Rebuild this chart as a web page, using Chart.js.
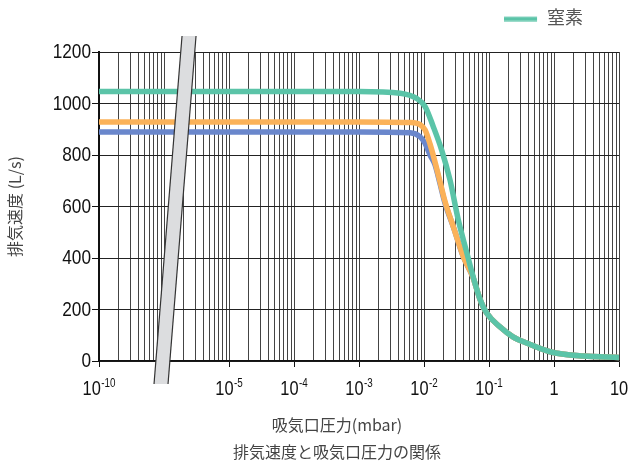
<!DOCTYPE html>
<html><head><meta charset="utf-8">
<script src="https://cdn.jsdelivr.net/npm/chart.js@4.4.1/dist/chart.umd.min.js"></script>
<style>html,body{margin:0;padding:0;background:#fff;}#wrap{width:633px;height:463px;}</style>
</head><body><div id="wrap"><canvas id="c" width="633" height="463"></canvas></div>
<script>
// ---- data ----
const seriesNames = ['窒素', '', ''];
const xTickPressures = [1e-10, 1e-5, 1e-4, 1e-3, 1e-2, 1e-1, 1, 10];
const xTickBases = ['10', '10', '10', '10', '10', '10', '1', '10'];
const xTickExps = ['-10', '-5', '-4', '-3', '-2', '-1', '', ''];
const yTickValues = [0, 200, 400, 600, 800, 1000, 1200];
const xAxisTitle = '吸気口圧力(mbar)';
const yAxisTitle = '排気速度 (L/s)';
const chartTitle = '排気速度と吸気口圧力の関係';

const n2Pressure = [1e-10, 1e-3, 4.3e-3, 7.7e-3, 1.04e-2, 1.39e-2, 1.87e-2, 2.51e-2, 3.37e-2, 4.54e-2, 5.61e-2, 7.27e-2, 9.2e-2, 0.147, 0.234, 0.38, 0.867, 2.79, 10];
const n2Speed    = [1047, 1047, 1040, 1020, 988, 910, 819, 703, 548, 422, 334, 240, 186, 133, 94, 70, 36, 19, 14];

const orangePressure = [1e-10, 1e-3, 6.1e-3, 8.7e-3, 1.04e-2, 1.24e-2, 1.48e-2, 1.76e-2, 2.1e-2, 2.83e-2, 4.03e-2, 5.61e-2, 7.27e-2, 9.2e-2, 0.147, 0.234, 0.38, 0.867, 2.79, 10];
const orangeSpeed    = [928, 928, 926, 918, 897, 842, 772, 697, 620, 521, 405, 328, 240, 186, 133, 94, 70, 36, 19, 14];

const bluePressure = [1e-10, 1e-3, 6.1e-3, 8.7e-3, 1.04e-2, 1.24e-2, 1.48e-2, 1.76e-2, 2.1e-2, 2.83e-2, 4.03e-2, 5.61e-2, 7.27e-2, 9.2e-2, 0.147, 0.234, 0.38, 0.867, 2.79, 10];
const blueSpeed    = [889, 889, 886, 871, 845, 800, 762, 690, 614, 521, 405, 328, 240, 186, 133, 94, 70, 36, 19, 14];

// ---- styles ----
const GREEN = '#5bc4a8', ORANGE = '#fbb259', BLUE = '#6a87cc';
const numFont = "'Liberation Sans', Arial, sans-serif";
const NARROW = 0.82;
const jpFont = "'Noto Sans CJK JP', 'Noto Sans', sans-serif";

// broken log axis: 1e-10..1e-9 occupies [0,1], then 1e-6..10 occupies [1,8]
function toAxis(p) { const lg = Math.log10(p); return lg < -7.5 ? lg + 10 : lg + 7; }
const majorU = xTickPressures.map(toAxis);
const isMajor = u => majorU.some(m => Math.abs(m - u) < 1e-6);
function pts(ps, vs) { return ps.map((p, i) => ({x: toAxis(p), y: vs[i]})); }

const legendImg = document.createElement('canvas');
legendImg.width = 34; legendImg.height = 8;
{ const g = legendImg.getContext('2d'); g.fillStyle = GREEN; g.fillRect(0, 3.3, 33, 4.3); }

const decorPlugin = {
  id: 'decor',
  afterLayout(chart) {
    if (chart.legend) chart.legend.right = chart.chartArea.right - 27.5;
    if (chart.titleBlock) { chart.titleBlock.left = 55; chart.titleBlock.right = chart.chartArea.right; chart.titleBlock.width = chart.titleBlock.right - 55; }
  },
  afterDatasetsDraw(chart) {
    const ctx = chart.ctx, xs = chart.scales.x, a = chart.chartArea;
    const yTop = a.top - 16, yBot = a.bottom + 23;
    const cTop = xs.getPixelForValue(1.385), cBot = xs.getPixelForValue(0.954);
    const hw = 7;
    ctx.save();
    ctx.beginPath();
    ctx.moveTo(cTop - hw, yTop); ctx.lineTo(cTop + hw, yTop);
    ctx.lineTo(cBot + hw, yBot); ctx.lineTo(cBot - hw, yBot); ctx.closePath();
    ctx.fillStyle = '#dcdddf'; ctx.fill();
    ctx.strokeStyle = '#333'; ctx.lineWidth = 1.2;
    ctx.beginPath(); ctx.moveTo(cTop - hw, yTop); ctx.lineTo(cBot - hw, yBot); ctx.stroke();
    ctx.beginPath(); ctx.moveTo(cTop + hw, yTop); ctx.lineTo(cBot + hw, yBot); ctx.stroke();
    ctx.restore();
  },
  afterDraw(chart) {
    const ctx = chart.ctx, xs = chart.scales.x, ys = chart.scales.y, bottom = chart.chartArea.bottom;
    ctx.save();
    ctx.fillStyle = '#111';
    // x tick labels with superscript exponents
    ctx.textBaseline = 'alphabetic'; ctx.textAlign = 'left';
    xTickPressures.forEach((p, i) => {
      const px = xs.getPixelForValue(toAxis(p));
      ctx.font = '20px ' + numFont;
      const wb = ctx.measureText(xTickBases[i]).width * NARROW;
      ctx.font = '12px ' + numFont;
      const we = xTickExps[i] ? ctx.measureText(xTickExps[i]).width * NARROW + 0.5 : 0;
      const x0 = px - (wb + we) / 2;
      ctx.save(); ctx.translate(x0, bottom + 34); ctx.scale(NARROW, 1);
      ctx.font = '20px ' + numFont; ctx.fillText(xTickBases[i], 0, 0);
      ctx.restore();
      if (xTickExps[i]) {
        ctx.save(); ctx.translate(x0 + wb + 0.5, bottom + 26); ctx.scale(NARROW, 1);
        ctx.font = '12px ' + numFont; ctx.fillText(xTickExps[i], 0, 0);
        ctx.restore();
      }
    });
    // y tick labels
    ctx.textAlign = 'right'; ctx.textBaseline = 'middle'; ctx.font = '21px ' + numFont;
    yTickValues.forEach(v => {
      const py = ys.getPixelForValue(v);
      ctx.save(); ctx.translate(ys.right - 8, py + 0.5); ctx.scale(NARROW, 1);
      ctx.fillText(String(v), 0, 0);
      ctx.restore();
    });
    ctx.restore();
  }
};

const lineDs = (label, data, color) => ({
  label, data, borderColor: color, backgroundColor: color, borderWidth: 5.5,
  pointRadius: 0, cubicInterpolationMode: 'monotone', fill: false, borderCapStyle: 'butt'
});

new Chart(document.getElementById('c'), {
  type: 'line',
  data: {
    datasets: [
      lineDs(seriesNames[0], pts(n2Pressure, n2Speed), GREEN),
      lineDs(seriesNames[1], pts(orangePressure, orangeSpeed), ORANGE),
      lineDs(seriesNames[2], pts(bluePressure, blueSpeed), BLUE)
    ]
  },
  options: {
    responsive: false, animation: false, devicePixelRatio: 1,
    layout: { padding: 0 },
    plugins: {
      tooltip: { enabled: false },
      legend: {
        display: true, position: 'top', align: 'end',
        labels: {
          usePointStyle: true, pointStyleWidth: 34, padding: 8.5,
          font: { size: 18, family: jpFont }, color: '#555',
          generateLabels: () => [{ text: seriesNames[0], pointStyle: legendImg, fillStyle: GREEN, strokeStyle: GREEN, lineWidth: 0, hidden: false, datasetIndex: 0, fontColor: '#555' }]
        }
      },
      subtitle: {
        display: true, position: 'top', weight: 500, text: '',
        font: { size: 10, lineHeight: 1.2 }, padding: { top: 3.5, bottom: 0 }
      },
      title: {
        display: true, position: 'bottom', text: [xAxisTitle, chartTitle],
        color: '#444', font: { size: 16, family: jpFont, weight: 'normal', lineHeight: 1.6875 },
        padding: { top: 0, bottom: -2.5 }
      }
    },
    scales: {
      x: {
        type: 'linear', min: 0, max: 8,
        afterBuildTicks(s) {
          const us = [];
          const decades = [1e-10, 1e-6, 1e-5, 1e-4, 1e-3, 1e-2, 1e-1, 1];
          decades.forEach(d => { for (let k = 1; k <= 9; k++) us.push(Math.round(toAxis(k * d) * 1e6) / 1e6); });
          us.push(8);
          s.ticks = [...new Set(us)].sort((a, b) => a - b).map(v => ({ value: v }));
        },
        afterFit(s) { s.height = 50.5; s.paddingLeft = 0; s.paddingRight = 14; s.paddingTop = 0; s.paddingBottom = 0; },
        ticks: { display: false },
        grid: {
          color: '#444', lineWidth: 1, drawTicks: true, tickLength: 6,
          tickColor: ctx => (ctx.tick && isMajor(ctx.tick.value)) ? '#111' : 'rgba(0,0,0,0)'
        },
        border: { display: true, color: '#111', width: 1.5 },
        title: { display: false, text: xAxisTitle }
      },
      y: {
        min: 0, max: 1200,
        afterBuildTicks(s) { s.ticks = yTickValues.map(v => ({ value: v })); },
        afterFit(s) { s.width = 99; s.paddingTop = 0; s.paddingBottom = 0; },
        ticks: { display: false },
        grid: { color: '#222', lineWidth: 1, drawTicks: true, tickLength: 7, tickColor: '#111' },
        border: { display: true, color: '#111', width: 2 },
        title: {
          display: true, text: yAxisTitle, color: '#444',
          font: { size: 16, family: jpFont }, padding: { top: 5.4, bottom: 0 }
        }
      }
    }
  },
  plugins: [decorPlugin]
});
</script>
</body></html>
